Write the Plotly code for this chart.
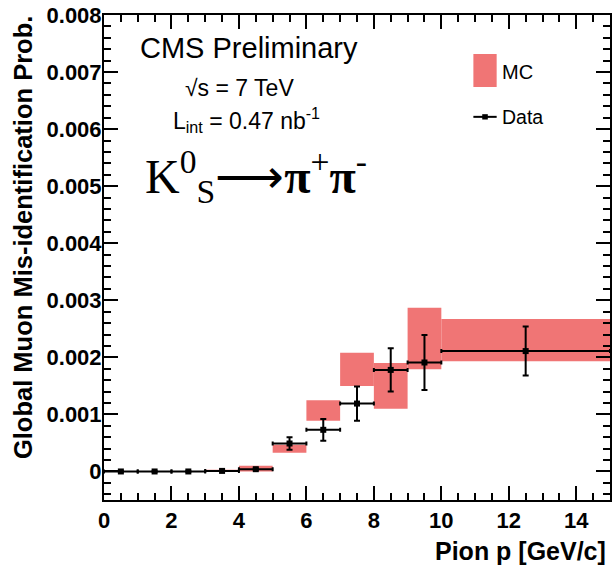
import plotly.graph_objects as go

# Pion momentum bins [GeV/c]
bin_lo = [0, 1, 2, 3, 4, 5, 6, 7, 8, 9, 10]
bin_hi = [1, 2, 3, 4, 5, 6, 7, 8, 9, 10, 15]

# Measured mis-identification probability (data) and its uncertainty
data_val = [0.0, 0.0, 0.0, 0.00001, 0.00004, 0.00049, 0.00073, 0.00119, 0.00178, 0.00191, 0.00211]
data_err = [0.000003, 0.000003, 0.000003, 0.000005, 0.00001, 0.00011, 0.00019, 0.00030, 0.00038, 0.00048, 0.00043]

# Simulation (MC) central value and uncertainty band
mc_val = [0.0, 0.0, 0.000003, 0.00001, 0.00005, 0.00040, 0.00107, 0.00179, 0.00150, 0.00233, 0.00230]
mc_err = [0.000002, 0.000002, 0.000003, 0.00002, 0.00005, 0.00007, 0.00018, 0.00029, 0.00040, 0.00054, 0.00037]

y_tickvals = [0, 0.001, 0.002, 0.003, 0.004, 0.005, 0.006, 0.007, 0.008]
y_ticktext = ["0", "0.001", "0.002", "0.003", "0.004", "0.005", "0.006", "0.007", "0.008"]

centers = [(a + b) / 2 for a, b in zip(bin_lo, bin_hi)]
widths = [b - a for a, b in zip(bin_lo, bin_hi)]
half_w = [w / 2 for w in widths]

MC_COLOR = "#F07575"
FONT = "Liberation Sans"

fig = go.Figure()

fig.add_trace(go.Bar(
    x=centers,
    y=[2 * e for e in mc_err],
    base=[v - e for v, e in zip(mc_val, mc_err)],
    width=widths,
    marker=dict(color=MC_COLOR, line=dict(width=0)),
    name="MC",
    showlegend=False,
))

fig.add_trace(go.Scatter(
    x=centers,
    y=data_val,
    mode="markers",
    marker=dict(symbol="square", size=6, color="black"),
    error_x=dict(type="data", array=half_w, color="black", thickness=2, width=2),
    error_y=dict(type="data", array=data_err, color="black", thickness=2, width=3),
    name="Data",
    showlegend=False,
))

axis_common = dict(
    showgrid=False,
    zeroline=False,
    showline=True,
    linecolor="black",
    linewidth=2,
    mirror="allticks",
    ticks="inside",
    ticklen=14,
    tickwidth=1.5,
    tickcolor="black",
    tickfont=dict(family=FONT, size=22, color="black", weight="bold"),
)

fig.update_layout(
    width=615,
    height=570,
    margin=dict(l=104, r=3, t=15, b=70),
    plot_bgcolor="white",
    paper_bgcolor="white",
    barmode="overlay",
    xaxis=dict(
        range=[0, 15],
        tickvals=[0, 2, 4, 6, 8, 10, 12, 14],
        minor=dict(dtick=0.5, ticks="inside", ticklen=7, tickwidth=1.5, tickcolor="black"),
        **axis_common,
    ),
    yaxis=dict(
        range=[-0.0005, 0.008],
        tickvals=y_tickvals,
        ticktext=y_ticktext,
        ticklabelstandoff=-4,
        minor=dict(dtick=0.0002, ticks="inside", ticklen=7, tickwidth=1.5, tickcolor="black"),
        **axis_common,
    ),
)

annotations = [
    # axis titles
    dict(text="<b>Global Muon Mis-identification Prob.</b>", xref="paper", yref="paper",
         x=-0.161, y=1.002, xanchor="center", yanchor="top", textangle=-90, showarrow=False,
         font=dict(family=FONT, size=25.5, color="black")),
    dict(text="<b>Pion p [GeV/c]</b>", xref="paper", yref="paper",
         x=0.997, y=-0.105, xanchor="right", yanchor="middle", showarrow=False,
         font=dict(family=FONT, size=25, color="black")),
    # figure labels
    dict(text="CMS Preliminary", xref="paper", yref="paper",
         x=0.287, y=0.932, xanchor="center", yanchor="middle", showarrow=False,
         font=dict(family=FONT, size=29, color="black")),
    dict(text="\u221as = 7 TeV", xref="paper", yref="paper",
         x=0.268, y=0.8495, xanchor="center", yanchor="middle", showarrow=False,
         font=dict(family=FONT, size=23, color="black")),
    dict(text="L<sub>int</sub> = 0.47 nb<sup>-1</sup>", xref="paper", yref="paper",
         x=0.2815, y=0.784, xanchor="center", yanchor="middle", showarrow=False,
         font=dict(family=FONT, size=23, color="black")),
    dict(text="K<sup>0</sup><sub>S</sub>\u27f6<b>\u03c0</b><sup>+</sup><b>\u03c0</b><sup>-</sup>",
         xref="paper", yref="paper",
         x=0.0768, y=0.668, xanchor="left", yanchor="middle", showarrow=False,
         font=dict(family="Liberation Serif", size=48, color="black")),
    # legend labels
    dict(text="MC", xref="paper", yref="paper", x=0.783, y=0.882, xanchor="left", yanchor="middle",
         showarrow=False, font=dict(family=FONT, size=20, color="black")),
    dict(text="Data", xref="paper", yref="paper", x=0.783, y=0.790, xanchor="left", yanchor="middle",
         showarrow=False, font=dict(family=FONT, size=19.5, color="black")),
]
fig.update_layout(annotations=annotations)

# legend symbols
fig.add_shape(type="rect", xref="paper", yref="paper", x0=0.730, x1=0.776, y0=0.8515, y1=0.9196,
              fillcolor=MC_COLOR, line=dict(width=0))
fig.add_shape(type="line", xref="paper", yref="paper", x0=0.730, x1=0.776, y0=0.790, y1=0.790,
              line=dict(color="black", width=2))
fig.add_shape(type="rect", xref="paper", yref="paper", x0=0.7475, x1=0.7585, y0=0.7845, y1=0.7955,
              fillcolor="black", line=dict(width=0))

fig.write_html("out.html")
